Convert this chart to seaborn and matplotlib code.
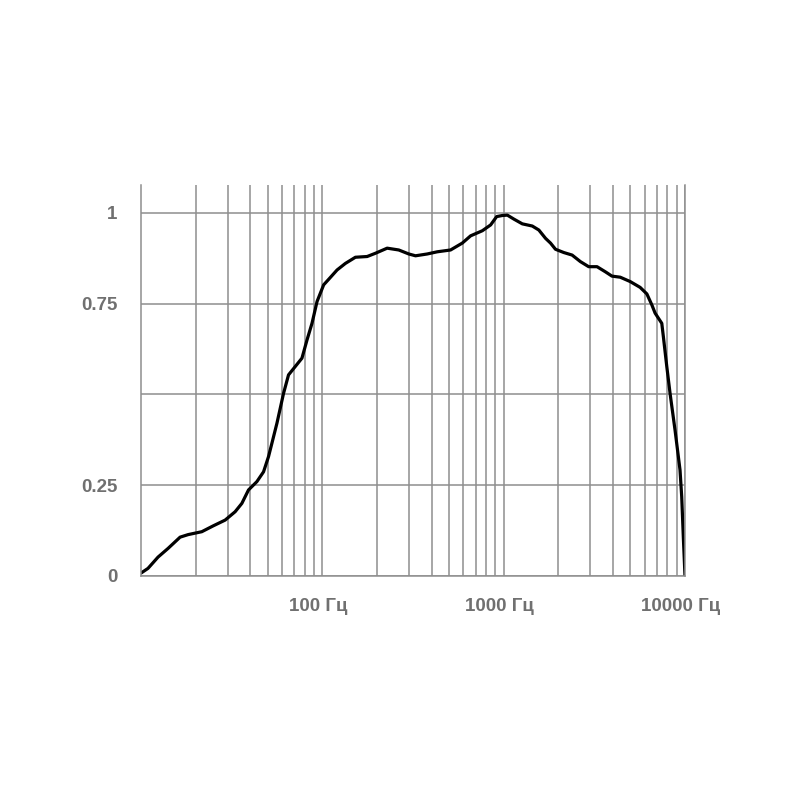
import matplotlib
matplotlib.use("Agg")
import matplotlib.pyplot as plt
import matplotlib.transforms as mtransforms
import seaborn as sns
import pandas as pd
from matplotlib.ticker import FixedLocator, NullFormatter

# ---- data ----
freq_hz = [10.0, 10.93, 12.41, 14.10, 16.43, 18.19, 21.64, 24.99, 29.11, 33.04,
           35.99, 39.16, 43.56, 47.40, 50.50, 52.73, 56.2, 61.1, 65.1, 70.9,
           77.2, 82.3, 87.7, 93.5, 101.7, 108.3, 120.6, 134.0, 152.2, 176.6,
           196.3, 227.8, 264.0, 299.8, 326.5, 378.9, 430.2, 509.5, 591.3, 657.3,
           762.6, 847.4, 914.8, 983.5, 1048, 1139, 1267, 1438, 1563, 1702,
           1813, 1931, 2145, 2385, 2649, 2943, 3272, 3635, 3956, 4395,
           4987, 5657, 6161, 6561, 6843, 7447, 7599, 7935, 8272, 8811,
           9387, 9592, 9788, 10000]
response = [0.008, 0.021, 0.052, 0.076, 0.107, 0.114, 0.122, 0.138, 0.154, 0.177,
            0.200, 0.237, 0.260, 0.287, 0.329, 0.366, 0.421, 0.503, 0.554, 0.577,
            0.600, 0.650, 0.696, 0.756, 0.802, 0.817, 0.843, 0.861, 0.878, 0.880,
            0.889, 0.903, 0.898, 0.887, 0.882, 0.887, 0.893, 0.898, 0.917, 0.937,
            0.951, 0.967, 0.990, 0.993, 0.994, 0.983, 0.970, 0.964, 0.953, 0.930,
            0.917, 0.900, 0.891, 0.884, 0.866, 0.852, 0.852, 0.838, 0.826, 0.823,
            0.811, 0.795, 0.777, 0.747, 0.724, 0.696, 0.659, 0.577, 0.503, 0.402,
            0.292, 0.218, 0.108, 0.0]

x_tick_values = [100, 1000, 10000]
x_tick_labels = ["100 Гц", "1000 Гц", "10000 Гц"]
y_tick_values = [0, 0.25, 0.5, 0.75, 1]
y_tick_labels = ["0", "0.25", "", "0.75", "1"]

# ---- style ----
sns.set_style("white")
plt.rcParams["font.family"] = ["Liberation Sans", "DejaVu Sans"]

GRID = "#8e8e8e"
TEXT = "#707070"

fig = plt.figure(figsize=(8, 8), dpi=100)
ax = fig.add_axes([0.17625, 0.28, 0.68, 0.48875])

df = pd.DataFrame({"freq": freq_hz, "resp": response})
sns.lineplot(data=df, x="freq", y="resp", ax=ax, color="black",
             linewidth=2.3, sort=False, estimator=None)
for ln in ax.lines:
    ln.set_solid_joinstyle("round")
    ln.set_solid_capstyle("round")

ax.set_xscale("log")
ax.set_xlim(10, 10000)
ax.set_ylim(0, 1.077)

# grid: every 1..9 x decade
minor = [m * 10 ** e for e in range(1, 4) for m in range(2, 10)]
ax.xaxis.set_major_locator(FixedLocator(x_tick_values))
ax.xaxis.set_minor_locator(FixedLocator(minor))
ax.xaxis.set_minor_formatter(NullFormatter())
ax.set_xticklabels(x_tick_labels)
ax.set_yticks(y_tick_values)
ax.set_yticklabels(y_tick_labels)

ax.grid(True, which="both", axis="x", color=GRID, linewidth=1.1)
ax.grid(True, which="major", axis="y", color=GRID, linewidth=1.1)
ax.set_axisbelow(True)

for side in ["left", "bottom", "right"]:
    ax.spines[side].set_visible(True)
    ax.spines[side].set_color(GRID)
    ax.spines[side].set_linewidth(1.1)
ax.spines["top"].set_visible(False)

ax.tick_params(axis="both", which="both", length=0)
ax.tick_params(axis="x", pad=16, labelsize=13.5, labelcolor=TEXT)
ax.tick_params(axis="y", pad=17, labelsize=13.5, labelcolor=TEXT)
shift = mtransforms.ScaledTranslation(-4 / 100, 0, fig.dpi_scale_trans)
for lab in ax.get_xticklabels():
    lab.set_fontweight("bold")
    lab.set_transform(lab.get_transform() + shift)
for lab in ax.get_yticklabels():
    lab.set_fontweight("bold")

ax.set_xlabel("")
ax.set_ylabel("")

fig.savefig("out.png", dpi=100)
